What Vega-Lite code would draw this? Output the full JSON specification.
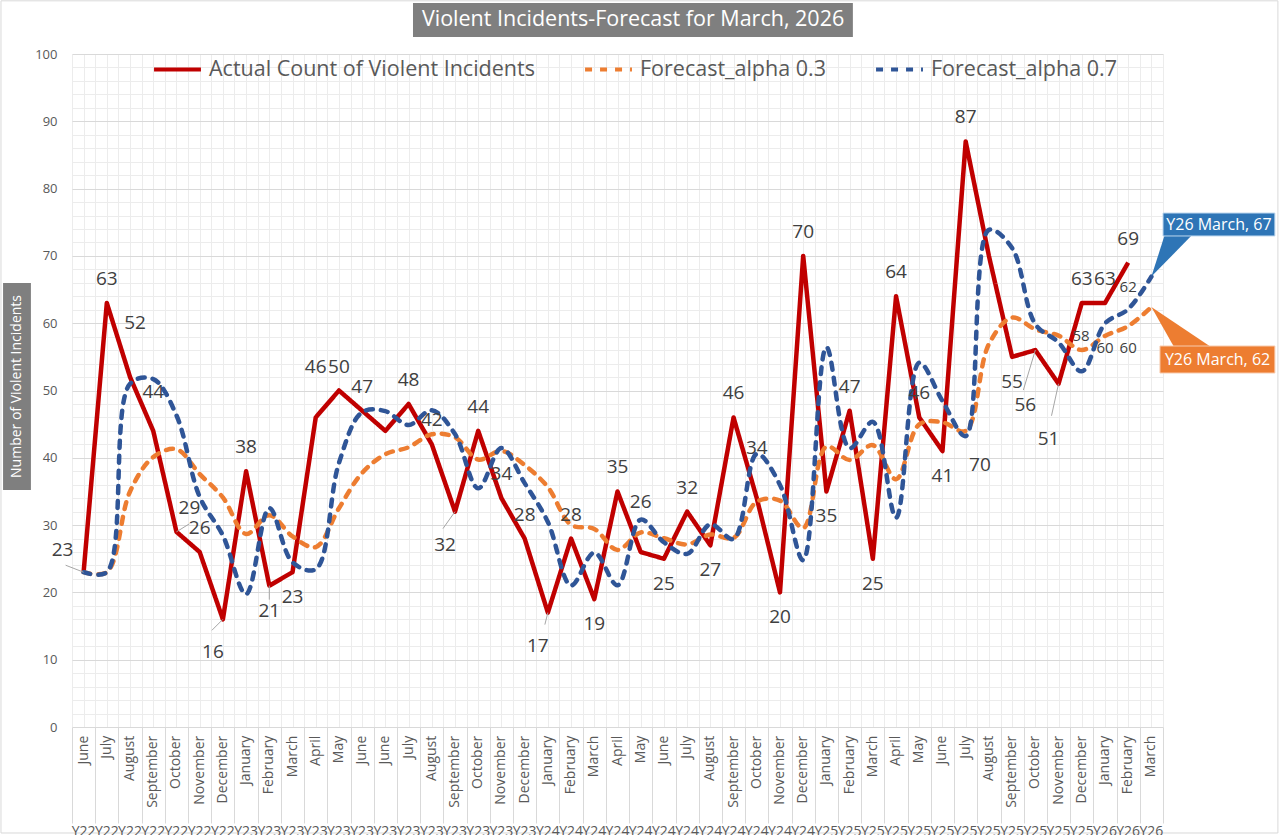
{
"$schema":"https://vega.github.io/schema/vega-lite/v6.json",
"width":1091,"height":673,
"autosize":{"type":"none"},
"padding":{"left":72,"top":54,"right":118,"bottom":108},
"background":"white",
"config":{"view":{"stroke":null},"text":{"font":"Open Sans"}},
"data":{"values":[
{"i":0,"m":"June","yr":"Y22","actual":23,"f3":23.0,"f7":23.0},
{"i":1,"m":"July","yr":"Y22","actual":63,"f3":23.0,"f7":23.0},
{"i":2,"m":"August","yr":"Y22","actual":52,"f3":35.0,"f7":51.0},
{"i":3,"m":"September","yr":"Y22","actual":44,"f3":40.1,"f7":51.7},
{"i":4,"m":"October","yr":"Y22","actual":29,"f3":41.27,"f7":46.31},
{"i":5,"m":"November","yr":"Y22","actual":26,"f3":37.59,"f7":34.19},
{"i":6,"m":"December","yr":"Y22","actual":16,"f3":34.11,"f7":28.46},
{"i":7,"m":"January","yr":"Y23","actual":38,"f3":28.68,"f7":19.74},
{"i":8,"m":"February","yr":"Y23","actual":21,"f3":31.47,"f7":32.52},
{"i":9,"m":"March","yr":"Y23","actual":23,"f3":28.33,"f7":24.46},
{"i":10,"m":"April","yr":"Y23","actual":46,"f3":26.73,"f7":23.44},
{"i":11,"m":"May","yr":"Y23","actual":50,"f3":32.51,"f7":39.23},
{"i":12,"m":"June","yr":"Y23","actual":47,"f3":37.76,"f7":46.77},
{"i":13,"m":"June","yr":"Y23","actual":44,"f3":40.53,"f7":46.93},
{"i":14,"m":"July","yr":"Y23","actual":48,"f3":41.57,"f7":44.88},
{"i":15,"m":"August","yr":"Y23","actual":42,"f3":43.5,"f7":47.06},
{"i":16,"m":"September","yr":"Y23","actual":32,"f3":43.05,"f7":43.52},
{"i":17,"m":"October","yr":"Y23","actual":44,"f3":39.74,"f7":35.46},
{"i":18,"m":"November","yr":"Y23","actual":34,"f3":41.02,"f7":41.44},
{"i":19,"m":"December","yr":"Y23","actual":28,"f3":38.91,"f7":36.23},
{"i":20,"m":"January","yr":"Y24","actual":17,"f3":35.64,"f7":30.47},
{"i":21,"m":"February","yr":"Y24","actual":28,"f3":30.05,"f7":21.04},
{"i":22,"m":"March","yr":"Y24","actual":19,"f3":29.43,"f7":25.91},
{"i":23,"m":"April","yr":"Y24","actual":35,"f3":26.3,"f7":21.07},
{"i":24,"m":"May","yr":"Y24","actual":26,"f3":28.91,"f7":30.82},
{"i":25,"m":"June","yr":"Y24","actual":25,"f3":28.04,"f7":27.45},
{"i":26,"m":"July","yr":"Y24","actual":32,"f3":27.13,"f7":25.73},
{"i":27,"m":"August","yr":"Y24","actual":27,"f3":28.59,"f7":30.12},
{"i":28,"m":"September","yr":"Y24","actual":46,"f3":28.11,"f7":27.94},
{"i":29,"m":"October","yr":"Y24","actual":34,"f3":33.48,"f7":40.58},
{"i":30,"m":"November","yr":"Y24","actual":20,"f3":33.64,"f7":35.97},
{"i":31,"m":"December","yr":"Y24","actual":70,"f3":29.55,"f7":24.79},
{"i":32,"m":"January","yr":"Y25","actual":35,"f3":41.68,"f7":56.44},
{"i":33,"m":"February","yr":"Y25","actual":47,"f3":39.68,"f7":41.43},
{"i":34,"m":"March","yr":"Y25","actual":25,"f3":41.87,"f7":45.33},
{"i":35,"m":"April","yr":"Y25","actual":64,"f3":36.81,"f7":31.1},
{"i":36,"m":"May","yr":"Y25","actual":46,"f3":44.97,"f7":54.13},
{"i":37,"m":"June","yr":"Y25","actual":41,"f3":45.28,"f7":48.44},
{"i":38,"m":"July","yr":"Y25","actual":87,"f3":43.99,"f7":43.23},
{"i":39,"m":"August","yr":"Y25","actual":70,"f3":56.9,"f7":73.87},
{"i":40,"m":"September","yr":"Y25","actual":55,"f3":60.83,"f7":71.16},
{"i":41,"m":"October","yr":"Y25","actual":56,"f3":59.08,"f7":59.85},
{"i":42,"m":"November","yr":"Y25","actual":51,"f3":58.16,"f7":57.15},
{"i":43,"m":"December","yr":"Y25","actual":63,"f3":56.01,"f7":52.85},
{"i":44,"m":"January","yr":"Y26","actual":63,"f3":58.11,"f7":59.95},
{"i":45,"m":"February","yr":"Y26","actual":69,"f3":59.57,"f7":62.09},
{"i":46,"m":"March","yr":"Y26","f3":62.4,"f7":66.93}
]},
"resolve":{"axis":{"x":"independent","y":"independent"}},
"layer":[
{"data":{"values":[{}]},"mark":{"type":"rect","fillOpacity":0,"stroke":"#d9d9d9","strokeWidth":1},
 "encoding":{"x":{"datum":-3.56,"type":"quantitative","scale":{"domain":[-0.5,46.5],"nice":false,"zero":false},"axis":null},"x2":{"datum":51.45},
 "y":{"datum":107.9,"type":"quantitative","scale":{"domain":[0,100],"nice":false,"zero":false},"axis":null},"y2":{"datum":-15.75}}},
{"mark":{"type":"line","strokeWidth":4.5,"interpolate":"linear","strokeJoin":"round"},
 "encoding":{"x":{"field":"i","type":"quantitative","scale":{"domain":[-0.5,46.5],"nice":false,"zero":false},"axis":null},
 "y":{"field":"actual","type":"quantitative","scale":{"domain":[0,100],"nice":false,"zero":false},"axis":null},
 "color":{"datum":"Actual Count of Violent Incidents","scale":{"domain":["Actual Count of Violent Incidents","Forecast_alpha 0.3","Forecast_alpha 0.7"],"range":["#c00000","#ed7d31","#2f5597"]},
   "legend":{"orient":"none","legendX":80,"legendY":-10,"direction":"horizontal","title":null,"labelFont":"Open Sans","labelFontSize":21.5,"labelColor":"#595959","symbolType":"stroke","symbolSize":2200,"symbolStrokeWidth":4,"labelOffset":6,"columnPadding":42,"gridAlign":"none","labelLimit":600,"padding":0}},
 "strokeDash":{"datum":"Actual Count of Violent Incidents","scale":{"domain":["Actual Count of Violent Incidents","Forecast_alpha 0.3","Forecast_alpha 0.7"],"range":[[1,0],[7,8],[7,8]]},
   "legend":{"orient":"none","legendX":80,"legendY":-10,"direction":"horizontal","title":null,"labelFont":"Open Sans","labelFontSize":21.5,"labelColor":"#595959","symbolType":"stroke","symbolSize":2200,"symbolStrokeWidth":4,"labelOffset":6,"columnPadding":42,"gridAlign":"none","labelLimit":600,"padding":0}}}},
{"mark":{"type":"line","strokeWidth":4.5,"interpolate":"catmull-rom","strokeCap":"round"},
 "encoding":{"x":{"field":"i","type":"quantitative","scale":{"domain":[-0.5,46.5],"nice":false,"zero":false},
   "axis":{"orient":"bottom","values":[-0.5,0.5,1.5,2.5,3.5,4.5,5.5,6.5,7.5,8.5,9.5,10.5,11.5,12.5,13.5,14.5,15.5,16.5,17.5,18.5,19.5,20.5,21.5,22.5,23.5,24.5,25.5,26.5,27.5,28.5,29.5,30.5,31.5,32.5,33.5,34.5,35.5,36.5,37.5,38.5,39.5,40.5,41.5,42.5,43.5,44.5,45.5,46.5],"labels":false,"domain":false,"ticks":true,"tickSize":96,"tickColor":"#d9d9d9","tickWidth":1,"grid":true,"gridColor":"#ececec","gridWidth":1,"title":null}},
 "y":{"field":"f3","type":"quantitative","scale":{"domain":[0,100],"nice":false,"zero":false},
   "axis":{"orient":"left","values":[0,10,20,30,40,50,60,70,80,90,100],"grid":true,"gridColor":"#d9d9d9","gridWidth":1,"domain":false,"ticks":false,"labelPadding":15,"labelFont":"Open Sans","labelFontSize":13,"labelColor":"#595959","title":null}},
 "color":{"datum":"Forecast_alpha 0.3","scale":{"domain":["Actual Count of Violent Incidents","Forecast_alpha 0.3","Forecast_alpha 0.7"],"range":["#c00000","#ed7d31","#2f5597"]}},
 "strokeDash":{"datum":"Forecast_alpha 0.3","scale":{"domain":["Actual Count of Violent Incidents","Forecast_alpha 0.3","Forecast_alpha 0.7"],"range":[[1,0],[7,8],[7,8]]}}}},
{"mark":{"type":"line","strokeWidth":4.5,"interpolate":"catmull-rom","strokeCap":"round"},
 "encoding":{"x":{"field":"i","type":"quantitative","scale":{"domain":[-0.5,46.5],"nice":false,"zero":false},
   "axis":{"orient":"top","values":[0,1,2,3,4,5,6,7,8,9,10,11,12,13,14,15,16,17,18,19,20,21,22,23,24,25,26,27,28,29,30,31,32,33,34,35,36,37,38,39,40,41,42,43,44,45,46],"labels":false,"domain":false,"ticks":false,"grid":true,"gridColor":"#ececec","gridWidth":1,"title":null}},
 "y":{"field":"f7","type":"quantitative","scale":{"domain":[0,100],"nice":false,"zero":false},
   "axis":{"orient":"right","values":[2,4,6,8,12,14,16,18,22,24,26,28,32,34,36,38,42,44,46,48,52,54,56,58,62,64,66,68,72,74,76,78,82,84,86,88,92,94,96,98],"labels":false,"domain":false,"ticks":false,"grid":true,"gridColor":"#ececec","gridWidth":1,"title":null}},
 "color":{"datum":"Forecast_alpha 0.7","scale":{"domain":["Actual Count of Violent Incidents","Forecast_alpha 0.3","Forecast_alpha 0.7"],"range":["#c00000","#ed7d31","#2f5597"]}},
 "strokeDash":{"datum":"Forecast_alpha 0.7","scale":{"domain":["Actual Count of Violent Incidents","Forecast_alpha 0.3","Forecast_alpha 0.7"],"range":[[1,0],[7,8],[7,8]]}}}},
{"transform":[{"filter":{"field":"i","oneOf":[0]}}],"mark":{"type":"point","shape":"M0,0L-1,-0.39","filled":false,"size":1296,"stroke":"#a6a6a6","strokeWidth":1,"opacity":1},
 "encoding":{"x":{"field":"i","type":"quantitative","scale":{"domain":[-0.5,46.5],"nice":false,"zero":false},"axis":null},"y":{"field":"actual","type":"quantitative","scale":{"domain":[0,100],"nice":false,"zero":false},"axis":null}}},
{"transform":[{"filter":{"field":"i","oneOf":[4]}}],"mark":{"type":"point","shape":"M0,0L1,-0.62","filled":false,"size":676,"stroke":"#a6a6a6","strokeWidth":1,"opacity":1},
 "encoding":{"x":{"field":"i","type":"quantitative","scale":{"domain":[-0.5,46.5],"nice":false,"zero":false},"axis":null},"y":{"field":"actual","type":"quantitative","scale":{"domain":[0,100],"nice":false,"zero":false},"axis":null}}},
{"transform":[{"filter":{"field":"i","oneOf":[6]}}],"mark":{"type":"point","shape":"M0,0L-1,1","filled":false,"size":484,"stroke":"#a6a6a6","strokeWidth":1,"opacity":1},
 "encoding":{"x":{"field":"i","type":"quantitative","scale":{"domain":[-0.5,46.5],"nice":false,"zero":false},"axis":null},"y":{"field":"actual","type":"quantitative","scale":{"domain":[0,100],"nice":false,"zero":false},"axis":null}}},
{"transform":[{"filter":{"field":"i","oneOf":[8]}}],"mark":{"type":"point","shape":"M0,0L0,1","filled":false,"size":784,"stroke":"#a6a6a6","strokeWidth":1,"opacity":1},
 "encoding":{"x":{"field":"i","type":"quantitative","scale":{"domain":[-0.5,46.5],"nice":false,"zero":false},"axis":null},"y":{"field":"actual","type":"quantitative","scale":{"domain":[0,100],"nice":false,"zero":false},"axis":null}}},
{"transform":[{"filter":{"field":"i","oneOf":[16]}}],"mark":{"type":"point","shape":"M0,0L-0.71,1","filled":false,"size":1156,"stroke":"#a6a6a6","strokeWidth":1,"opacity":1},
 "encoding":{"x":{"field":"i","type":"quantitative","scale":{"domain":[-0.5,46.5],"nice":false,"zero":false},"axis":null},"y":{"field":"actual","type":"quantitative","scale":{"domain":[0,100],"nice":false,"zero":false},"axis":null}}},
{"transform":[{"filter":{"field":"i","oneOf":[20]}}],"mark":{"type":"point","shape":"M0,0L-0.25,1","filled":false,"size":576,"stroke":"#a6a6a6","strokeWidth":1,"opacity":1},
 "encoding":{"x":{"field":"i","type":"quantitative","scale":{"domain":[-0.5,46.5],"nice":false,"zero":false},"axis":null},"y":{"field":"actual","type":"quantitative","scale":{"domain":[0,100],"nice":false,"zero":false},"axis":null}}},
{"transform":[{"filter":{"field":"i","oneOf":[41]}}],"mark":{"type":"point","shape":"M0,0L-0.3,1","filled":false,"size":6400,"stroke":"#a6a6a6","strokeWidth":1,"opacity":1},
 "encoding":{"x":{"field":"i","type":"quantitative","scale":{"domain":[-0.5,46.5],"nice":false,"zero":false},"axis":null},"y":{"field":"actual","type":"quantitative","scale":{"domain":[0,100],"nice":false,"zero":false},"axis":null}}},
{"transform":[{"filter":{"field":"i","oneOf":[42]}}],"mark":{"type":"point","shape":"M0,0L-0.22,1","filled":false,"size":4096,"stroke":"#a6a6a6","strokeWidth":1,"opacity":1},
 "encoding":{"x":{"field":"i","type":"quantitative","scale":{"domain":[-0.5,46.5],"nice":false,"zero":false},"axis":null},"y":{"field":"actual","type":"quantitative","scale":{"domain":[0,100],"nice":false,"zero":false},"axis":null}}},
{"mark":{"type":"text","font":"Open Sans","fontSize":14,"fill":"#595959","angle":270,"align":"right","baseline":"middle"},
 "encoding":{"x":{"field":"i","type":"quantitative","scale":{"domain":[-0.5,46.5],"nice":false,"zero":false},"axis":null},
 "y":{"datum":-1.3,"type":"quantitative","scale":{"domain":[0,100],"nice":false,"zero":false},"axis":null},"text":{"field":"m"}}},
{"mark":{"type":"text","font":"Open Sans","fontSize":14,"fill":"#595959","align":"center","baseline":"top"},
 "encoding":{"x":{"field":"i","type":"quantitative","scale":{"domain":[-0.5,46.5],"nice":false,"zero":false},"axis":null},
 "y":{"datum":-14.6,"type":"quantitative","scale":{"domain":[0,100],"nice":false,"zero":false},"axis":null},"text":{"field":"yr"}}},
{"data":{"values":[{}]},"mark":{"type":"rect","fill":"#7f7f7f"},
 "encoding":{"x":{"datum":14.19,"type":"quantitative","scale":{"domain":[-0.5,46.5],"nice":false,"zero":false},"axis":null},"x2":{"datum":33.14},
 "y":{"datum":107.58,"type":"quantitative","scale":{"domain":[0,100],"nice":false,"zero":false},"axis":null},"y2":{"datum":102.53}}},
{"data":{"values":[{"t":"Violent Incidents-Forecast for March, 2026"}]},"mark":{"type":"text","font":"Open Sans","fontSize":21.5,"fill":"white","align":"center","baseline":"middle"},
 "encoding":{"x":{"datum":23.67,"type":"quantitative","scale":{"domain":[-0.5,46.5],"nice":false,"zero":false},"axis":null},
 "y":{"datum":105.05,"type":"quantitative","scale":{"domain":[0,100],"nice":false,"zero":false},"axis":null},"text":{"field":"t"}}},
{"data":{"values":[{}]},"mark":{"type":"rect","fill":"#7f7f7f"},
 "encoding":{"x":{"datum":-3.47,"type":"quantitative","scale":{"domain":[-0.5,46.5],"nice":false,"zero":false},"axis":null},"x2":{"datum":-2.27},
 "y":{"datum":65.97,"type":"quantitative","scale":{"domain":[0,100],"nice":false,"zero":false},"axis":null},"y2":{"datum":35.22}}},
{"data":{"values":[{"t":"Number of Violent Incidents"}]},"mark":{"type":"text","font":"Open Sans","fontSize":14,"fill":"white","align":"center","baseline":"middle","angle":270},
 "encoding":{"x":{"datum":-2.87,"type":"quantitative","scale":{"domain":[-0.5,46.5],"nice":false,"zero":false},"axis":null},
 "y":{"datum":50.6,"type":"quantitative","scale":{"domain":[0,100],"nice":false,"zero":false},"axis":null},"text":{"field":"t"}}},
{"data":{"values":[{}]},"mark":{"type":"point","shape":"M0,0L0.32,-1L0.98,-1Z","filled":true,"size":6724,"fill":"#2e75b6","opacity":1,"strokeWidth":0},
 "encoding":{"x":{"datum":46,"type":"quantitative","scale":{"domain":[-0.5,46.5],"nice":false,"zero":false},"axis":null},
 "y":{"datum":66.93,"type":"quantitative","scale":{"domain":[0,100],"nice":false,"zero":false},"axis":null}}},
{"data":{"values":[{}]},"mark":{"type":"point","shape":"M0,0L0.38,0.67L1,0.67Z","filled":true,"size":14400,"fill":"#ed7d31","opacity":1,"strokeWidth":0},
 "encoding":{"x":{"datum":46,"type":"quantitative","scale":{"domain":[-0.5,46.5],"nice":false,"zero":false},"axis":null},
 "y":{"datum":62.4,"type":"quantitative","scale":{"domain":[0,100],"nice":false,"zero":false},"axis":null}}},
{"data":{"values":[{}]},"mark":{"type":"rect","fill":"#2e75b6","stroke":"#bdd7ee","strokeWidth":1},
 "encoding":{"x":{"datum":46.5,"type":"quantitative","scale":{"domain":[-0.5,46.5],"nice":false,"zero":false},"axis":null},"x2":{"datum":51.32},
 "y":{"datum":76.37,"type":"quantitative","scale":{"domain":[0,100],"nice":false,"zero":false},"axis":null},"y2":{"datum":72.96}}},
{"data":{"values":[{}]},"mark":{"type":"rect","fill":"#ed7d31","stroke":"#f8cbad","strokeWidth":1},
 "encoding":{"x":{"datum":46.37,"type":"quantitative","scale":{"domain":[-0.5,46.5],"nice":false,"zero":false},"axis":null},"x2":{"datum":51.32},
 "y":{"datum":56.61,"type":"quantitative","scale":{"domain":[0,100],"nice":false,"zero":false},"axis":null},"y2":{"datum":52.6}}},
{"data":{"values":[{"t":"Y26 March, 67","xx":48.91,"yy":74.66},{"t":"Y26 March, 62","xx":48.85,"yy":54.6}]},"mark":{"type":"text","font":"Open Sans","fontSize":16,"fill":"white","align":"center","baseline":"middle"},
 "encoding":{"x":{"field":"xx","type":"quantitative","scale":{"domain":[-0.5,46.5],"nice":false,"zero":false},"axis":null},
 "y":{"field":"yy","type":"quantitative","scale":{"domain":[0,100],"nice":false,"zero":false},"axis":null},"text":{"field":"t"}}},
{"transform":[{"filter":{"field":"i","oneOf":[1,5,7,11,12,14,15,17,18,19,21,23,26,28,31,33,35,36,38,43,44,45]}}],
 "mark":{"type":"text","font":"Open Sans","fontSize":19,"fill":"#404040","dy":-24},
 "encoding":{"x":{"field":"i","type":"quantitative","scale":{"domain":[-0.5,46.5],"nice":false,"zero":false},"axis":null},
 "y":{"field":"actual","type":"quantitative","scale":{"domain":[0,100],"nice":false,"zero":false},"axis":null},"text":{"field":"actual","type":"quantitative"}}},
{"transform":[{"filter":{"field":"i","oneOf":[8,9,22,25,27,30,32,34,37,40]}}],
 "mark":{"type":"text","font":"Open Sans","fontSize":19,"fill":"#404040","dy":25},
 "encoding":{"x":{"field":"i","type":"quantitative","scale":{"domain":[-0.5,46.5],"nice":false,"zero":false},"axis":null},
 "y":{"field":"actual","type":"quantitative","scale":{"domain":[0,100],"nice":false,"zero":false},"axis":null},"text":{"field":"actual","type":"quantitative"}}},
{"transform":[{"filter":{"field":"i","oneOf":[6,16,20]}}],
 "mark":{"type":"text","font":"Open Sans","fontSize":19,"fill":"#404040","dx":-10,"dy":33},
 "encoding":{"x":{"field":"i","type":"quantitative","scale":{"domain":[-0.5,46.5],"nice":false,"zero":false},"axis":null},
 "y":{"field":"actual","type":"quantitative","scale":{"domain":[0,100],"nice":false,"zero":false},"axis":null},"text":{"field":"actual","type":"quantitative"}}},
{"transform":[{"filter":{"field":"i","oneOf":[41,42]}}],
 "mark":{"type":"text","font":"Open Sans","fontSize":19,"fill":"#404040","dx":-10,"dy":55},
 "encoding":{"x":{"field":"i","type":"quantitative","scale":{"domain":[-0.5,46.5],"nice":false,"zero":false},"axis":null},
 "y":{"field":"actual","type":"quantitative","scale":{"domain":[0,100],"nice":false,"zero":false},"axis":null},"text":{"field":"actual","type":"quantitative"}}},
{"transform":[{"filter":{"field":"i","oneOf":[10,24,29]}}],
 "mark":{"type":"text","font":"Open Sans","fontSize":19,"fill":"#404040","dy":-50},
 "encoding":{"x":{"field":"i","type":"quantitative","scale":{"domain":[-0.5,46.5],"nice":false,"zero":false},"axis":null},
 "y":{"field":"actual","type":"quantitative","scale":{"domain":[0,100],"nice":false,"zero":false},"axis":null},"text":{"field":"actual","type":"quantitative"}}},
{"transform":[{"filter":{"field":"i","oneOf":[0]}}],
 "mark":{"type":"text","font":"Open Sans","fontSize":19,"fill":"#404040","dx":-21,"dy":-22},
 "encoding":{"x":{"field":"i","type":"quantitative","scale":{"domain":[-0.5,46.5],"nice":false,"zero":false},"axis":null},
 "y":{"field":"actual","type":"quantitative","scale":{"domain":[0,100],"nice":false,"zero":false},"axis":null},"text":{"field":"actual","type":"quantitative"}}},
{"transform":[{"filter":{"field":"i","oneOf":[2]}}],
 "mark":{"type":"text","font":"Open Sans","fontSize":19,"fill":"#404040","dx":5,"dy":-54},
 "encoding":{"x":{"field":"i","type":"quantitative","scale":{"domain":[-0.5,46.5],"nice":false,"zero":false},"axis":null},
 "y":{"field":"actual","type":"quantitative","scale":{"domain":[0,100],"nice":false,"zero":false},"axis":null},"text":{"field":"actual","type":"quantitative"}}},
{"transform":[{"filter":{"field":"i","oneOf":[3]}}],
 "mark":{"type":"text","font":"Open Sans","fontSize":19,"fill":"#404040","dy":-39},
 "encoding":{"x":{"field":"i","type":"quantitative","scale":{"domain":[-0.5,46.5],"nice":false,"zero":false},"axis":null},
 "y":{"field":"actual","type":"quantitative","scale":{"domain":[0,100],"nice":false,"zero":false},"axis":null},"text":{"field":"actual","type":"quantitative"}}},
{"transform":[{"filter":{"field":"i","oneOf":[4]}}],
 "mark":{"type":"text","font":"Open Sans","fontSize":19,"fill":"#404040","dx":13,"dy":-24},
 "encoding":{"x":{"field":"i","type":"quantitative","scale":{"domain":[-0.5,46.5],"nice":false,"zero":false},"axis":null},
 "y":{"field":"actual","type":"quantitative","scale":{"domain":[0,100],"nice":false,"zero":false},"axis":null},"text":{"field":"actual","type":"quantitative"}}},
{"transform":[{"filter":{"field":"i","oneOf":[39]}}],
 "mark":{"type":"text","font":"Open Sans","fontSize":19,"fill":"#404040","dx":-9,"dy":209},
 "encoding":{"x":{"field":"i","type":"quantitative","scale":{"domain":[-0.5,46.5],"nice":false,"zero":false},"axis":null},
 "y":{"field":"actual","type":"quantitative","scale":{"domain":[0,100],"nice":false,"zero":false},"axis":null},"text":{"field":"actual","type":"quantitative"}}},
{"transform":[{"filter":{"field":"i","oneOf":[44]}}],
 "mark":{"type":"text","font":"Open Sans","fontSize":15,"fill":"#404040","dx":-24,"dy":0},
 "encoding":{"x":{"field":"i","type":"quantitative","scale":{"domain":[-0.5,46.5],"nice":false,"zero":false},"axis":null},
 "y":{"field":"f3","type":"quantitative","scale":{"domain":[0,100],"nice":false,"zero":false},"axis":null},"text":{"field":"f3","type":"quantitative","format":".0f"}}},
{"transform":[{"filter":{"field":"i","oneOf":[45]}}],
 "mark":{"type":"text","font":"Open Sans","fontSize":15,"fill":"#404040","dy":22},
 "encoding":{"x":{"field":"i","type":"quantitative","scale":{"domain":[-0.5,46.5],"nice":false,"zero":false},"axis":null},
 "y":{"field":"f3","type":"quantitative","scale":{"domain":[0,100],"nice":false,"zero":false},"axis":null},"text":{"field":"f3","type":"quantitative","format":".0f"}}},
{"transform":[{"filter":{"field":"i","oneOf":[44]}}],
 "mark":{"type":"text","font":"Open Sans","fontSize":15,"fill":"#404040","dy":24},
 "encoding":{"x":{"field":"i","type":"quantitative","scale":{"domain":[-0.5,46.5],"nice":false,"zero":false},"axis":null},
 "y":{"field":"f7","type":"quantitative","scale":{"domain":[0,100],"nice":false,"zero":false},"axis":null},"text":{"field":"f7","type":"quantitative","format":".0f"}}},
{"transform":[{"filter":{"field":"i","oneOf":[45]}}],
 "mark":{"type":"text","font":"Open Sans","fontSize":15,"fill":"#404040","dy":-22},
 "encoding":{"x":{"field":"i","type":"quantitative","scale":{"domain":[-0.5,46.5],"nice":false,"zero":false},"axis":null},
 "y":{"field":"f7","type":"quantitative","scale":{"domain":[0,100],"nice":false,"zero":false},"axis":null},"text":{"field":"f7","type":"quantitative","format":".0f"}}}
]
}
